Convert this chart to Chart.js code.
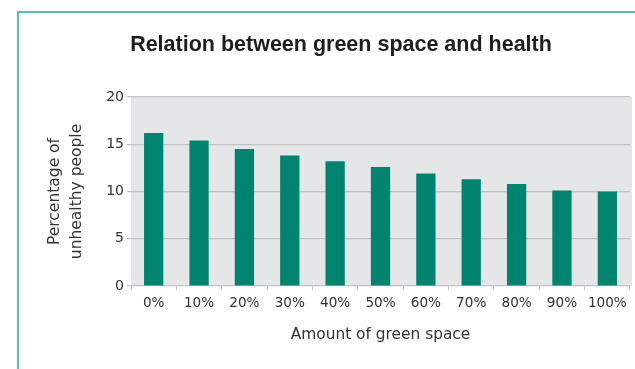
<!DOCTYPE html>
<html>
<head>
<meta charset="utf-8">
<script src="https://cdn.jsdelivr.net/npm/chart.js@4"></script>
<style>
  html, body { margin: 0; padding: 0; background: #fff; }
  .frame {
    position: absolute; left: 17px; top: 11px; right: 0; bottom: 0;
    border-left: 2px solid #5cbfae; border-top: 2px solid #5cbfae;
  }
  .wrap { position: absolute; left: 0; top: 0; width: 635px; height: 369px; }
</style>
</head>
<body>
<div class="frame"></div>
<div class="wrap"><canvas id="myChart" width="635" height="369"></canvas></div>
<script>
'use strict';

const categories = ['0%', '10%', '20%', '30%', '40%', '50%', '60%', '70%', '80%', '90%', '100%'];
const unhealthy = [16.2, 15.4, 14.5, 13.8, 13.2, 12.6, 11.9, 11.3, 10.8, 10.1, 10.0];
const yTicks = [0, 5, 10, 15, 20];
const chartTitle = 'Relation between green space and health';
const xTitle = 'Amount of green space';
const yTitle = ['Percentage of', 'unhealthy people'];

const titleFont = "'Liberation Sans', Arial, sans-serif";
const labelFont = "'DejaVu Sans', sans-serif";

// grey panel behind the bars + title text
const panelPlugin = {
  id: 'panel',
  beforeDraw: function(chart) {
    const ctx = chart.ctx;
    const a = chart.chartArea;
    ctx.save();
    ctx.fillStyle = '#e5e6e8';
    ctx.fillRect(a.left, a.top, a.right - a.left + 2, a.bottom - a.top);
    ctx.fillStyle = '#1e1e1e';
    ctx.font = 'bold 21.5px ' + titleFont;
    ctx.textAlign = 'center';
    ctx.textBaseline = 'middle';
    ctx.fillText(chartTitle, 341, 45);
    ctx.restore();
  }
};

const displayChart = function() {
  const ctx = document.getElementById('myChart');
  new Chart(ctx, {
    type: 'bar',
    data: {
      labels: categories,
      datasets: [
        {
          data: unhealthy,
          backgroundColor: '#00846f',
          borderWidth: 0,
          categoryPercentage: 1,
          barPercentage: 0.425
        }
      ]
    },
    options: {
      responsive: false,
      animation: false,
      layout: { padding: { left: 44, right: 5, top: 97, bottom: 22 } },
      plugins: {
        legend: { display: false },
        tooltip: { enabled: false }
      },
      scales: {
        x: {
          afterFit: function(scale) { scale.height = 61; },
          grid: {
            drawOnChartArea: false,
            drawTicks: true,
            tickLength: 4,
            color: '#c8c8c8'
          },
          border: { display: false },
          ticks: {
            color: '#333',
            padding: 5,
            font: { family: labelFont, size: 13.6 }
          },
          title: {
            display: true,
            text: xTitle,
            color: '#333',
            padding: { top: 0, bottom: 3 },
            font: { family: labelFont, size: 15.4 }
          }
        },
        y: {
          min: 0,
          max: 20,
          afterFit: function(scale) { scale.width = 87; },
          afterBuildTicks: function(scale) {
            scale.ticks = yTicks.map(function(v) { return { value: v }; });
          },
          grid: {
            color: '#c2c2c4',
            lineWidth: 1.2,
            tickLength: 4
          },
          border: { display: false },
          ticks: {
            color: '#333',
            padding: 3,
            font: { family: labelFont, size: 14 }
          },
          title: {
            display: true,
            text: yTitle,
            color: '#333',
            padding: { top: 0, bottom: 0 },
            font: { family: labelFont, size: 15.5, lineHeight: 1.4 }
          }
        }
      }
    },
    plugins: [panelPlugin]
  });
};

document.addEventListener('DOMContentLoaded', function() {
  displayChart();
});
</script>
</body>
</html>
